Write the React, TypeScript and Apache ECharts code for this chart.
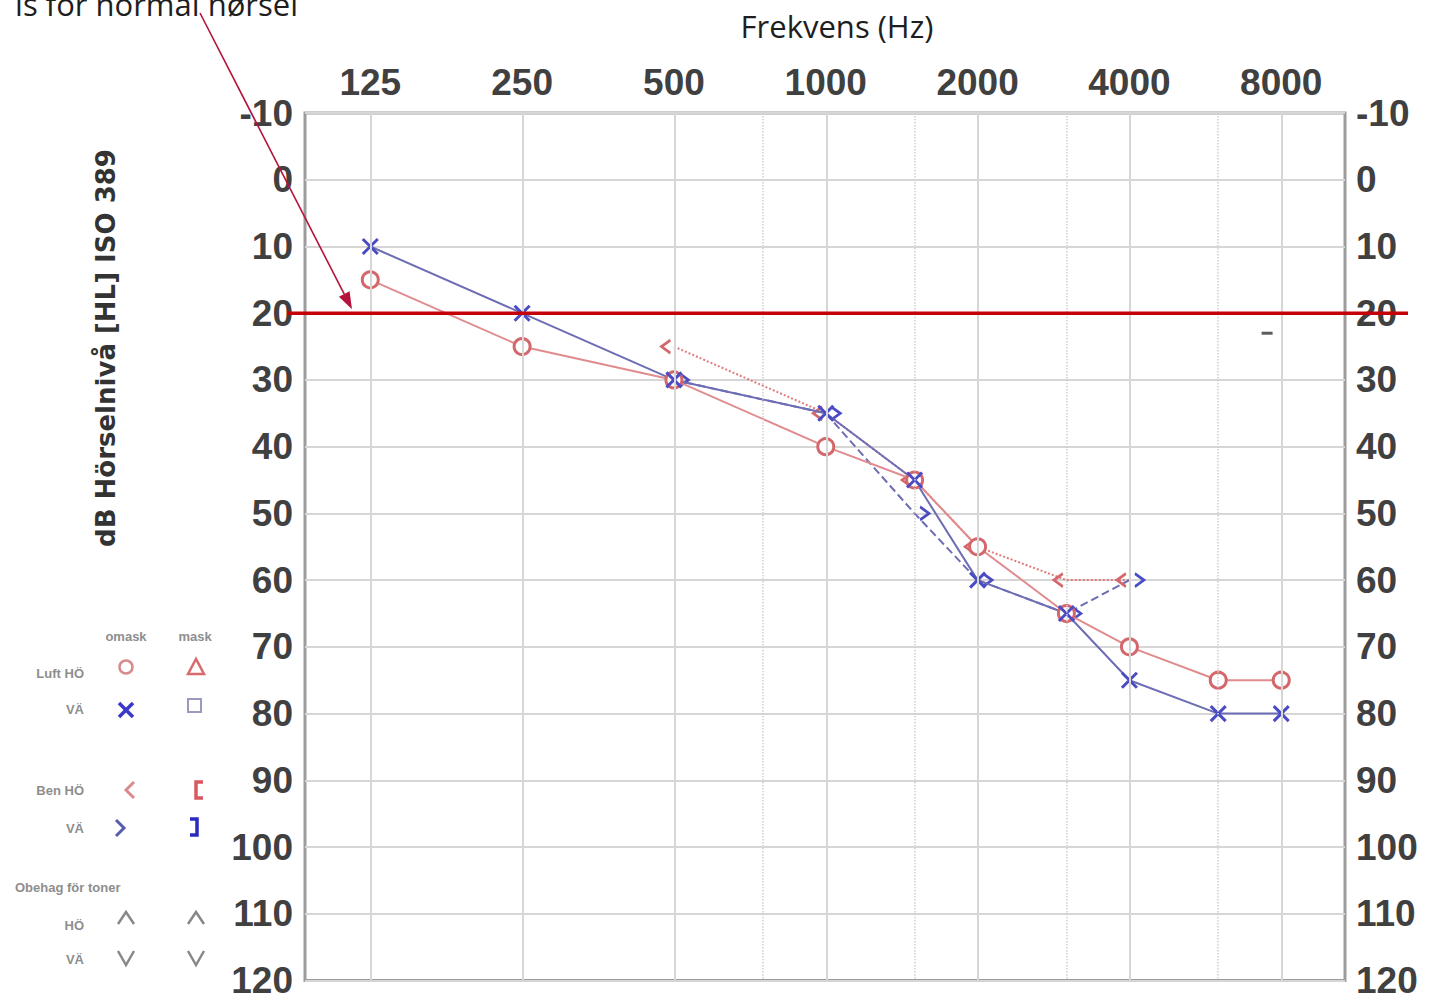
import React, { useEffect, useRef } from "react";
import * as echarts from "echarts";

// ---- data ----
const frequencies = [125, 250, 500, 1000, 1500, 2000, 3000, 4000, 6000, 8000];
const rightAir = [15, 25, 30, 40, 45, 55, 65, 70, 75, 75]; // red O (Luft HÖ)
const leftAir = [10, 20, 30, 35, 45, 60, 65, 75, 80, 80]; // blue X (Luft VÄ)
const boneFrequencies = [500, 1000, 1500, 2000, 3000, 4000];
const rightBone = [25, 35, 45, 55, 60, 60]; // red <
const leftBone = [30, 35, 50, 60, 65, 60]; // blue >
const octaveTicks = [125, 250, 500, 1000, 2000, 4000, 8000];
const midTicks = [750, 1500, 3000, 6000];
const strayMark = [[7500, 23]];
const normalLimit = 20;
const yMin = -10;
const yMax = 120;
const yStep = 10;

const RED = "#d4676b";
const RED_LINE = "#e08c8e";
const BLUE = "#4b4bc4";
const BLUE_LINE = "#6d6db5";

export default function App() {
  const ref = useRef<HTMLDivElement>(null);

  useEffect(() => {
    const el = ref.current as HTMLDivElement;
    const chart = echarts.init(el, null, { renderer: "svg" });
    const lx = (f: number) => Math.log2(f);
    const xMin = lx(125) - 0.43;
    const xMax = lx(8000) + 0.42;
    const tickLabel = {
      fontFamily: "Liberation Sans",
      fontWeight: "bold",
      fontSize: 37,
      color: "#404040",
    };

    chart.setOption({
      animation: false,
      grid: {
        left: 305,
        right: 100,
        top: 113,
        bottom: 16,
        show: true,
        borderColor: "#9c9c9c",
        borderWidth: 3,
        backgroundColor: "#fff",
      },
      xAxis: {
        type: "value",
        position: "top",
        min: xMin,
        max: xMax,
        axisLine: { show: false },
        axisTick: { show: false },
        splitLine: { show: false },
        axisLabel: {
          ...tickLabel,
          margin: 12,
          customValues: octaveTicks.map(lx),
          formatter: (v: number) => String(Math.round(Math.pow(2, v))),
        },
      },
      yAxis: [
        {
          type: "value",
          inverse: true,
          min: yMin,
          max: yMax,
          interval: yStep,
          position: "left",
          axisLine: { show: false },
          axisTick: { show: false },
          axisLabel: { ...tickLabel, margin: 12 },
          splitLine: { show: true, lineStyle: { color: "#d6d6d6", width: 2 } },
        },
        {
          type: "value",
          inverse: true,
          min: yMin,
          max: yMax,
          interval: yStep,
          position: "right",
          axisLine: { show: false },
          axisTick: { show: false },
          axisLabel: { ...tickLabel, margin: 11 },
          splitLine: { show: false },
        },
      ],
      series: [
        {
          name: "grid",
          type: "scatter",
          data: [],
          z: 1,
          silent: true,
          markLine: {
            silent: true,
            symbol: "none",
            label: { show: false },
            animation: false,
            data: [
              ...octaveTicks.map((f) => ({
                xAxis: lx(f),
                lineStyle: { color: "#d6d6d6", width: 2, type: "solid" },
              })),
              ...midTicks.map((f) => ({
                xAxis: lx(f),
                lineStyle: { color: "#d0d0d0", width: 1.5, type: "dotted" },
              })),
            ],
          },
        },
        {
          name: "Ben HÖ",
          type: "line",
          z: 3,
          data: boneFrequencies.map((f, i) => [lx(f), rightBone[i]]),
          symbol: "path://M12,0L0,7L12,14",
          symbolSize: [9, 13],
          symbolOffset: [-8, 0],
          itemStyle: { color: "none", borderColor: RED, borderWidth: 2.5 },
          lineStyle: { color: "#e07a7c", width: 2, type: "dotted" },
        },
        {
          name: "Ben VÄ",
          type: "line",
          z: 3,
          data: boneFrequencies.map((f, i) => [lx(f), leftBone[i]]),
          symbol: "path://M0,0L12,7L0,14",
          symbolSize: [9, 13],
          symbolOffset: [10, 0],
          itemStyle: { color: "none", borderColor: BLUE, borderWidth: 2.5 },
          lineStyle: { color: BLUE_LINE, width: 2, type: "dashed" },
        },
        {
          name: "Luft HÖ",
          type: "line",
          z: 4,
          data: frequencies.map((f, i) => [lx(f), rightAir[i]]),
          symbol: "circle",
          symbolSize: 16,
          itemStyle: { color: "#fff", borderColor: RED, borderWidth: 3 },
          lineStyle: { color: RED_LINE, width: 2 },
        },
        {
          name: "Luft VÄ",
          type: "line",
          z: 4,
          data: frequencies.map((f, i) => [lx(f), leftAir[i]]),
          symbol: "path://M0,0L12,12M12,0L0,12",
          symbolSize: 15,
          itemStyle: { color: "none", borderColor: BLUE, borderWidth: 3 },
          lineStyle: { color: BLUE_LINE, width: 2 },
        },
        {
          name: "mark",
          type: "scatter",
          z: 4,
          data: strayMark.map(([f, db]) => [lx(f), db]),
          symbol: "rect",
          symbolSize: [11, 3],
          itemStyle: { color: "#333" },
        },
      ],
    });

    const px = (f: number, db: number) =>
      chart.convertToPixel({ xAxisIndex: 0, yAxisIndex: 0 }, [lx(f), db]) as number[];
    const yLimit = px(125, normalLimit)[1];

    // annotation arrow
    const start = [200, 13];
    const tip = [352, yLimit - 4];
    const dx = tip[0] - start[0];
    const dy = tip[1] - start[1];
    const len = Math.sqrt(dx * dx + dy * dy);
    const ux = dx / len;
    const uy = dy / len;
    const headL = 17;
    const headW = 6;
    const base = [tip[0] - ux * headL, tip[1] - uy * headL];
    const nx = -uy;
    const ny = ux;

    const legendText = (text: string, x: number, y: number, align = "right") => ({
      type: "text",
      x,
      y,
      z: 50,
      style: {
        text,
        fill: "#8e8e8e",
        fontSize: 13,
        fontWeight: "bold",
        fontFamily: "Liberation Sans",
        align,
        textAlign: align,
        verticalAlign: "middle",
        textVerticalAlign: "middle",
      },
    });
    const pl = (pts: number[][], stroke: string, lw = 2.5) => ({
      type: "polyline",
      z: 50,
      shape: { points: pts },
      style: { stroke, lineWidth: lw, fill: "none" },
    });

    chart.setOption({
      graphic: [
        {
          type: "text",
          x: 837,
          y: 26,
          z: 50,
          style: {
            text: "Frekvens (Hz)",
            fill: "#1e1e1e",
            fontSize: 31,
            fontFamily: "Open Sans",
            align: "center",
            textAlign: "center",
            verticalAlign: "middle",
            textVerticalAlign: "middle",
          },
        },
        {
          type: "text",
          x: 298,
          y: 19,
          z: 50,
          style: {
            text: "is for normal hørsel",
            fill: "#1e1e1e",
            fontSize: 31,
            fontFamily: "Open Sans",
            align: "right",
            textAlign: "right",
            verticalAlign: "bottom",
            textVerticalAlign: "bottom",
          },
        },
        {
          type: "text",
          x: 106,
          y: 348,
          rotation: Math.PI / 2,
          z: 50,
          style: {
            text: "dB Hörselnivå [HL] ISO 389",
            fill: "#333",
            fontSize: 26,
            fontWeight: "bold",
            fontFamily: "DejaVu Sans",
            align: "center",
            textAlign: "center",
            verticalAlign: "middle",
            textVerticalAlign: "middle",
          },
        },
        // 20 dB normal hearing line
        {
          type: "line",
          z: 60,
          shape: { x1: 288, y1: yLimit, x2: 1408, y2: yLimit },
          style: { stroke: "#c40008", lineWidth: 3.5 },
        },
        // arrow
        {
          type: "line",
          z: 61,
          shape: { x1: start[0], y1: start[1], x2: base[0], y2: base[1] },
          style: { stroke: "#b3143c", lineWidth: 1.6 },
        },
        {
          type: "polygon",
          z: 61,
          shape: {
            points: [
              tip,
              [base[0] + nx * headW, base[1] + ny * headW],
              [base[0] - nx * headW, base[1] - ny * headW],
            ],
          },
          style: { fill: "#b3143c" },
        },
        // legend
        legendText("omask", 126, 636, "center"),
        legendText("mask", 195, 636, "center"),
        legendText("Luft HÖ", 84, 673),
        legendText("VÄ", 84, 709),
        legendText("Ben HÖ", 84, 790),
        legendText("VÄ", 84, 828),
        legendText("Obehag för toner", 15, 887, "left"),
        legendText("HÖ", 84, 925),
        legendText("VÄ", 84, 959),
        {
          type: "circle",
          z: 50,
          shape: { cx: 126, cy: 667, r: 6.5 },
          style: { fill: "none", stroke: "#d98a8c", lineWidth: 2.5 },
        },
        {
          type: "polygon",
          z: 50,
          shape: { points: [[196, 659], [188, 674], [204, 674]] },
          style: { fill: "none", stroke: "#d86a6e", lineWidth: 2.5 },
        },
        pl([[119, 703], [133, 717]], "#3a3ac8", 3.5),
        pl([[133, 703], [119, 717]], "#3a3ac8", 3.5),
        {
          type: "rect",
          z: 50,
          shape: { x: 188, y: 699, width: 13, height: 13 },
          style: { fill: "none", stroke: "#9a9ac0", lineWidth: 2 },
        },
        pl([[134, 782], [126, 790], [134, 798]], "#d98a8c", 3),
        pl([[203, 782], [196, 782], [196, 798], [203, 798]], "#d85a60", 3.5),
        pl([[116, 820], [124, 828], [116, 836]], "#5a5ab0", 3),
        pl([[190, 819], [197, 819], [197, 835], [190, 835]], "#2a2ac0", 3.5),
        pl([[118, 924], [126, 912], [134, 924]], "#888", 2.5),
        pl([[188, 924], [196, 912], [204, 924]], "#888", 2.5),
        pl([[118, 951], [126, 965], [134, 951]], "#888", 2.5),
        pl([[188, 951], [196, 965], [204, 951]], "#888", 2.5),
      ],
    });

    return () => chart.dispose();
  }, []);

  return (
    <div
      ref={ref}
      style={{ position: "fixed", left: 0, top: 0, width: 1445, height: 999, background: "#fff" }}
    />
  );
}
